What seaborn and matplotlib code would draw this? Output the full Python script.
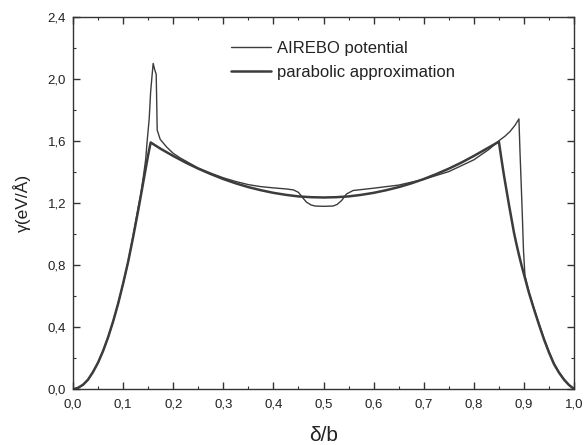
import matplotlib
matplotlib.use("Agg")
import matplotlib.pyplot as plt
import seaborn as sns
import pandas as pd
from matplotlib.ticker import MultipleLocator, FuncFormatter

sns.set_theme(style="ticks")
plt.rcParams['font.family'] = ['Liberation Sans', 'DejaVu Sans']

airebo_x = [0.0, 0.005, 0.01, 0.02, 0.03, 0.04, 0.05, 0.06, 0.07, 0.08, 0.09, 0.1,
            0.11, 0.12, 0.13, 0.135, 0.14, 0.145, 0.148, 0.152, 0.155, 0.158, 0.160,
            0.163, 0.166, 0.167, 0.168, 0.174, 0.187, 0.2, 0.214, 0.25, 0.275, 0.3,
            0.325, 0.35, 0.375, 0.4, 0.426, 0.44, 0.45, 0.458, 0.466, 0.475, 0.483,
            0.5, 0.519, 0.527, 0.536, 0.546, 0.559, 0.6, 0.65, 0.7, 0.75, 0.8, 0.83,
            0.852, 0.862, 0.872, 0.882, 0.890, 0.892, 0.895, 0.897, 0.899, 0.902, 0.91,
            0.92, 0.93, 0.94, 0.95, 0.96, 0.97, 0.98, 0.99, 1.0]
airebo_y = [0.0, 0.002, 0.007, 0.027, 0.06, 0.11, 0.17, 0.245, 0.333, 0.435, 0.55, 0.68,
            0.82, 0.99, 1.17, 1.25, 1.36, 1.48, 1.60, 1.74, 1.92, 2.03, 2.10,
            2.06, 2.03, 1.86, 1.67, 1.61, 1.56, 1.52, 1.49, 1.425, 1.392, 1.362,
            1.338, 1.318, 1.305, 1.297, 1.29, 1.284, 1.268, 1.235, 1.205, 1.187, 1.18,
            1.178, 1.18, 1.19, 1.215, 1.258, 1.28, 1.295, 1.315, 1.352, 1.402, 1.478, 1.545,
            1.606, 1.63, 1.66, 1.70, 1.742, 1.54, 1.28, 1.10, 0.90, 0.73, 0.625,
            0.52, 0.42, 0.325, 0.24, 0.165, 0.108, 0.062, 0.025, 0.0]

parab_x = [0.0, 0.005, 0.01, 0.02, 0.03, 0.04, 0.05, 0.06, 0.07, 0.08, 0.09, 0.1,
           0.11, 0.12, 0.13, 0.14, 0.15, 0.155, 0.175, 0.2, 0.225, 0.25, 0.275, 0.3,
           0.325, 0.35, 0.375, 0.4, 0.425, 0.45, 0.475, 0.5, 0.525, 0.55, 0.575, 0.6,
           0.625, 0.65, 0.675, 0.7, 0.725, 0.75, 0.775, 0.8, 0.825, 0.85, 0.855, 0.86,
           0.865, 0.87, 0.875, 0.88, 0.885, 0.89, 0.895, 0.9, 0.905, 0.91, 0.92, 0.93,
           0.94, 0.95, 0.96, 0.97, 0.98, 0.99, 1.0]
parab_y = [0.0, 0.002, 0.007, 0.027, 0.06, 0.11, 0.17, 0.245, 0.333, 0.435, 0.55, 0.68,
           0.82, 0.98, 1.15, 1.33, 1.51, 1.59, 1.549, 1.503, 1.46, 1.421, 1.386, 1.354,
           1.326, 1.302, 1.282, 1.265, 1.252, 1.242, 1.237, 1.235, 1.237, 1.242, 1.252, 1.265,
           1.282, 1.302, 1.326, 1.354, 1.386, 1.421, 1.46, 1.503, 1.549, 1.595, 1.485, 1.38,
           1.285, 1.19, 1.10, 1.01, 0.935, 0.865, 0.80, 0.74, 0.68, 0.62, 0.515, 0.415,
           0.32, 0.235, 0.16, 0.105, 0.06, 0.025, 0.0]

x_ticks = [0.0, 0.1, 0.2, 0.3, 0.4, 0.5, 0.6, 0.7, 0.8, 0.9, 1.0]
y_ticks = [0.0, 0.4, 0.8, 1.2, 1.6, 2.0, 2.4]

df_a = pd.DataFrame({"x": airebo_x, "y": airebo_y})
df_p = pd.DataFrame({"x": parab_x, "y": parab_y})

fig = plt.figure(figsize=(5.86, 4.45), dpi=100)
ax = fig.add_axes([0.1246, 0.126, 0.855, 0.836])

line_col = "#3c3c3c"
sns.lineplot(data=df_a, x="x", y="y", ax=ax, color=line_col, lw=1.0,
             estimator=None, sort=False, label="AIREBO potential")
sns.lineplot(data=df_p, x="x", y="y", ax=ax, color=line_col, lw=1.8,
             estimator=None, sort=False, label="parabolic approximation")

ax.set_xlim(0, 1.0)
ax.set_ylim(0, 2.4)
ax.set_xticks(x_ticks)
ax.set_yticks(y_ticks)
ax.xaxis.set_minor_locator(MultipleLocator(0.05))
ax.yaxis.set_minor_locator(MultipleLocator(0.2))
fmt = FuncFormatter(lambda v, p: f"{v:.1f}".replace(".", ","))
ax.xaxis.set_major_formatter(fmt)
ax.yaxis.set_major_formatter(fmt)
ax.tick_params(which="both", direction="in", top=True, right=True,
               labelsize=9.5, colors="#333333", labelcolor="#222222")
ax.tick_params(which="major", length=5, width=1)
ax.tick_params(axis="x", which="major", pad=7)
ax.tick_params(axis="y", which="major", pad=5)
ax.tick_params(which="minor", length=2.5, width=0.8)
for s in ax.spines.values():
    s.set_color("#333333")
    s.set_linewidth(1.0)

ax.set_xlabel("δ/b", fontsize=15, color="#222222", labelpad=11)
ax.set_ylabel("γ(eV/Å)", fontsize=12.5, color="#222222", labelpad=12)

leg = ax.legend(loc="upper left", bbox_to_anchor=(0.285, 0.975), frameon=False,
                fontsize=12, handlelength=2.4, handletextpad=0.4, labelspacing=0.5)
for t in leg.get_texts():
    t.set_color("#222222")

fig.savefig("out.png", dpi=100)
